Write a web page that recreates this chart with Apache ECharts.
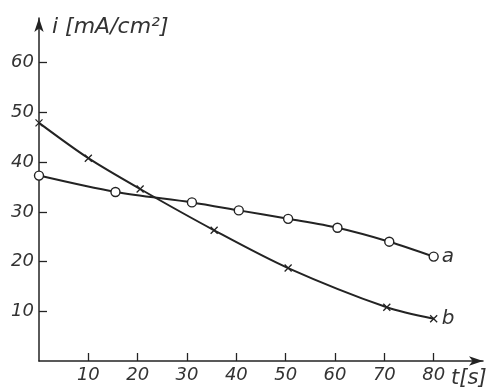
<!DOCTYPE html>
<html>
<head>
<meta charset="utf-8">
<script src="https://cdn.jsdelivr.net/npm/echarts@6/dist/echarts.min.js"></script>
<style>
  html, body { margin: 0; padding: 0; background: #fff; }
  #chart { width: 492px; height: 390px; }
</style>
</head>
<body>
<div id="chart"></div>
<script>
// Current density i [mA/cm²] against time t [s], two curves a and b
const timeA = [0, 15.5, 31, 40.5, 50.5, 60.5, 71, 80];
const currentA = [37.3, 34.0, 31.9, 30.3, 28.6, 26.8, 24.0, 21.0];
const timeB = [0, 10, 20.5, 35.5, 50.5, 70.5, 80];
const currentB = [47.9, 40.8, 34.6, 26.3, 18.7, 10.8, 8.5];
const xTicks = [10, 20, 30, 40, 50, 60, 70, 80];
const yTicks = [10, 20, 30, 40, 50, 60];

const ink = '#232323';
const textInk = '#333';
const font = 'DejaVu Sans';
const italic = (size) => ({ fontFamily: font, fontStyle: 'italic', fontSize: size, color: textInk });

const pairs = (xs, ys) => xs.map((x, k) => [x, ys[k]]);

const chart = echarts.init(document.getElementById('chart'), null, { renderer: 'canvas' });
chart.setOption({
  backgroundColor: '#fff',
  animation: false,
  grid: { left: 39, right: 9, top: 18, bottom: 29, containLabel: false },
  xAxis: {
    type: 'value',
    min: 0,
    max: 90,
    splitLine: { show: false },
    axisLine: { lineStyle: { color: ink, width: 1.5 }, symbol: ['none', 'arrow'], symbolSize: [7, 14] },
    axisTick: { inside: true, length: 8, customValues: xTicks, lineStyle: { color: ink, width: 1.3 } },
    axisLabel: Object.assign({ customValues: xTicks, margin: 5 }, italic(18)),
    name: 't[s]',
    nameLocation: 'end',
    nameGap: -33,
    nameTextStyle: Object.assign({ align: 'left', verticalAlign: 'top', padding: [7, 0, 0, 0] }, italic(21))
  },
  yAxis: {
    type: 'value',
    min: 0,
    max: 69,
    splitLine: { show: false },
    axisLine: { lineStyle: { color: ink, width: 1.5 }, symbol: ['none', 'arrow'], symbolSize: [7, 14] },
    axisTick: { inside: true, length: 8, customValues: yTicks, lineStyle: { color: ink, width: 1.3 } },
    axisLabel: Object.assign({ customValues: yTicks, margin: 5 }, italic(18)),
    name: 'i [mA/cm²]',
    nameLocation: 'end',
    nameGap: -9,
    nameTextStyle: Object.assign({ align: 'left', verticalAlign: 'middle', padding: [0, 0, 0, 13] }, italic(22))
  },
  series: [
    {
      name: 'a',
      type: 'line',
      data: pairs(timeA, currentA),
      smooth: 0.3,
      symbol: 'circle',
      symbolSize: 9,
      showAllSymbol: true,
      lineStyle: { color: ink, width: 2 },
      itemStyle: { color: '#fff', borderColor: ink, borderWidth: 1.4 },
      endLabel: Object.assign({ show: true, formatter: 'a', distance: 8 }, italic(20))
    },
    {
      name: 'b',
      type: 'line',
      data: pairs(timeB, currentB),
      smooth: 0.3,
      symbol: 'path://M0,0L10,10M10,0L0,10',
      symbolSize: 7,
      showAllSymbol: true,
      lineStyle: { color: ink, width: 2 },
      itemStyle: { color: ink, borderColor: ink, borderWidth: 1.3 },
      endLabel: Object.assign({ show: true, formatter: 'b', distance: 8 }, italic(20))
    }
  ]
});
</script>
</body>
</html>
